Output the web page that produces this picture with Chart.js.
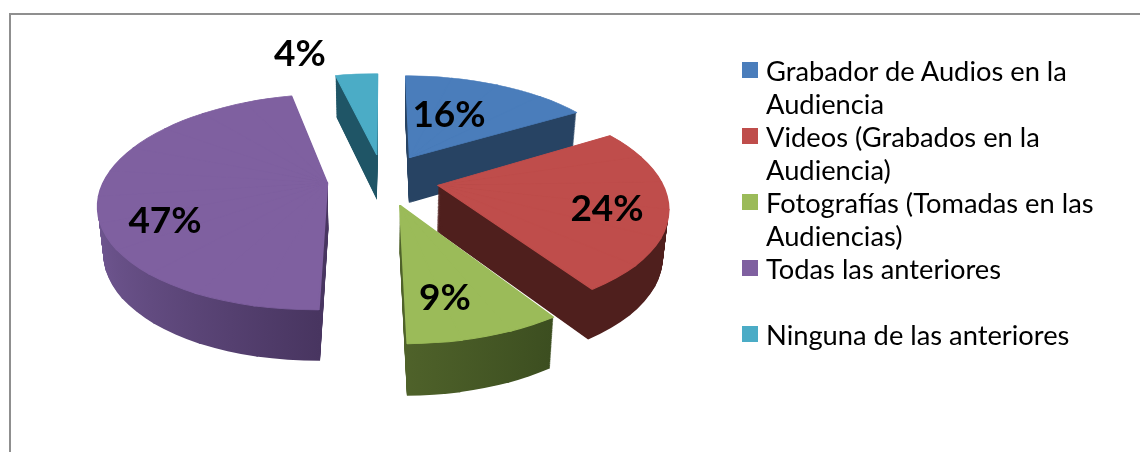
<!DOCTYPE html>
<html lang="es">
<head>
<meta charset="utf-8">
<title>Pie</title>
<script src="https://cdn.jsdelivr.net/npm/chart.js@4"></script>
<style>
    html, body { margin: 0; padding: 0; background: #fff; }
    #wrap { position: relative; width: 1140px; height: 452px; overflow: hidden; }
    #frame { position: absolute; left: 9px; top: 13px; right: -4px; bottom: -4px; border: 2px solid #8f8f8f; }
    #pie { position: absolute; left: 0; top: 0; }
    #legend { position: absolute; left: 742px; top: 54px; font: 27.3px/33px Lato, sans-serif; color: #000; }
    .row { position: relative; padding-left: 24px; white-space: nowrap; }
    .box { position: absolute; left: 0; top: 8px; width: 16px; height: 16px; }
</style>
</head>
<body>
<div id="wrap">
    <div id="frame"></div>
    <canvas id="pie" width="1140" height="452"></canvas>
    <div id="legend"></div>
</div>
<script>
// Chart data, unrounded shares
const categories = ['Grabador de Audios en la Audiencia', 'Videos (Grabados en la Audiencia)', 'Fotografías (Tomadas en las Audiencias)', 'Todas las anteriores', 'Ninguna de las anteriores'];
const values = [16.4, 24.4, 9.0, 46.5, 3.7];
const percentLabels = ['16%', '24%', '9%', '47%', '4%'];

// Legend wrapping, same line breaks as the picture
const legendLines = [
    ['Grabador de Audios en la', 'Audiencia'],
    ['Videos (Grabados en la', 'Audiencia)'],
    ['Fotografías (Tomadas en las', 'Audiencias)'],
    ['Todas las anteriores', '\u00a0'],
    ['Ninguna de las anteriores']
];

// Slice colours
const topColors = ['#4a7dbb', '#bf4d4b', '#9bbb59', '#7f60a0', '#4bacc6'];
const wallColors = [['#274363', '#274363'], ['#4f1f1d', '#4f1f1d'], ['#4f622a', '#3c4e20'], ['#6f5690', '#483560'], ['#1f5566', '#1f5566']];

// Label centres on the picture
const labelPos = [[449, 115], [607, 209], [445, 298], [165, 221], [300, 54]];

// Back slices get painted first
const drawOrder = [4, 0, 3, 1, 2];

// Camera for the tilted pie
const cam = { x0: 383, y0: 179.5, sx: 223, sy: 103.5, k: 0.177, explode: 0.25, depth: 46, narrow: 0.02 };

// Slices are cut in small wedges so each one can follow the perspective
const wedgeAngle = Math.PI / 12;
const wedgeOverlap = 0.006;

// Disc coords (u right, v away, z down 0..1) to screen
function project(u, v, z) {
    const w = 1 + cam.k * v;
    return {
        x: cam.x0 + cam.sx * u / w * (1 - cam.narrow * z),
        y: cam.y0 - cam.sy * v / w + z * cam.depth / Math.sqrt(w)
    };
}

// Affine matrix taking three source points to three target points
function affine(s, d) {
    const det = (s[0].x - s[2].x) * (s[1].y - s[2].y) - (s[1].x - s[2].x) * (s[0].y - s[2].y);
    const a = ((d[0].x - d[2].x) * (s[1].y - s[2].y) - (d[1].x - d[2].x) * (s[0].y - s[2].y)) / det;
    const c = ((d[1].x - d[2].x) * (s[0].x - s[2].x) - (d[0].x - d[2].x) * (s[1].x - s[2].x)) / det;
    const b = ((d[0].y - d[2].y) * (s[1].y - s[2].y) - (d[1].y - d[2].y) * (s[0].y - s[2].y)) / det;
    const e = ((d[1].y - d[2].y) * (s[0].x - s[2].x) - (d[0].y - d[2].y) * (s[1].x - s[2].x)) / det;
    return [a, b, c, e, d[2].x - a * s[2].x - c * s[2].y, d[2].y - b * s[2].x - e * s[2].y];
}

// Matrix that puts one wedge of an arc element on the tilted disc at height z
function wedgeMatrix(arc, mid, from, to, z) {
    const ex = Math.cos(mid) * cam.explode;
    const ey = Math.sin(mid) * cam.explode;
    const src = [{ x: arc.x, y: arc.y }];
    const dst = [project(ex, -ey, z)];
    [from, to].forEach(a => {
        src.push({ x: arc.x + Math.cos(a) * arc.outerRadius, y: arc.y + Math.sin(a) * arc.outerRadius });
        dst.push(project(Math.cos(a) + ex, -Math.sin(a) - ey, z));
    });
    return affine(src, dst);
}

// Draw one arc element wedge by wedge at height z
function drawSlice(ctx, arc, start, end, z) {
    const mid = (start + end) / 2;
    const count = Math.ceil((end - start) / wedgeAngle);
    const step = (end - start) / count;
    for (let n = 0; n < count; n++) {
        const from = start + step * n;
        const to = from + step;
        arc.startAngle = n === 0 ? from : from - wedgeOverlap;
        arc.endAngle = to;
        arc.circumference = arc.endAngle - arc.startAngle;
        ctx.save();
        ctx.transform(...wedgeMatrix(arc, mid, from, to, z));
        arc.draw(ctx);
        ctx.restore();
    }
    arc.startAngle = start;
    arc.endAngle = end;
    arc.circumference = end - start;
}

// Horizontal gradient over the slice's own width
function wallGradient(ctx, arc, colors) {
    let minX = arc.x, maxX = arc.x;
    for (let i = 0; i <= 20; i++) {
        const a = arc.startAngle + (arc.endAngle - arc.startAngle) * i / 20;
        const px = arc.x + Math.cos(a) * arc.outerRadius;
        minX = Math.min(minX, px);
        maxX = Math.max(maxX, px);
    }
    const g = ctx.createLinearGradient(minX, 0, maxX, 0);
    g.addColorStop(0, colors[0]);
    g.addColorStop(1, colors[1]);
    return g;
}

const tiltPlugin = {
    id: 'tilt',
    beforeDatasetsDraw(chart) {
        const ctx = chart.ctx;
        const arcs = chart.getDatasetMeta(0).data;
        drawOrder.forEach(i => {
            const arc = arcs[i];
            const start = arc.startAngle;
            const end = arc.endAngle;
            const topOptions = arc.options;

            // Side wall: stack of darker copies of the slice
            const wallOptions = Object.create(topOptions);
            wallOptions.backgroundColor = wallGradient(ctx, arc, wallColors[i]);
            wallOptions.borderWidth = 0;
            arc.options = wallOptions;
            for (let step = 60; step > 0; step--) {
                drawSlice(ctx, arc, start, end, step / 60);
            }
            arc.options = topOptions;

            // Top face, the thin same colour border hides the seams between wedges
            drawSlice(ctx, arc, start, end, 0);
        });
        return false;
    },
    afterDraw(chart) {
        const ctx = chart.ctx;
        ctx.save();
        ctx.font = 'bold 37px Lato, sans-serif';
        ctx.fillStyle = '#000';
        ctx.textAlign = 'center';
        ctx.textBaseline = 'middle';
        percentLabels.forEach((text, i) => ctx.fillText(text, labelPos[i][0], labelPos[i][1]));
        ctx.restore();
    }
};

new Chart(document.getElementById('pie').getContext('2d'), {
    type: 'pie',
    data: {
        labels: categories,
        datasets: [{
            data: values,
            backgroundColor: topColors,
            borderColor: topColors,
            borderWidth: 1
        }]
    },
    options: {
        responsive: false,
        animation: false,
        radius: 150,
        events: [],
        plugins: { legend: { display: false }, tooltip: { enabled: false } }
    },
    plugins: [tiltPlugin]
});

// Legend on the right
document.getElementById('legend').innerHTML = legendLines.map((lines, i) => `
    <div class="row">
        <span class="box" style="background:${topColors[i]}"></span>
        ${lines.map(l => `<div>${l}</div>`).join('')}
    </div>
`).join('');
</script>
</body>
</html>
